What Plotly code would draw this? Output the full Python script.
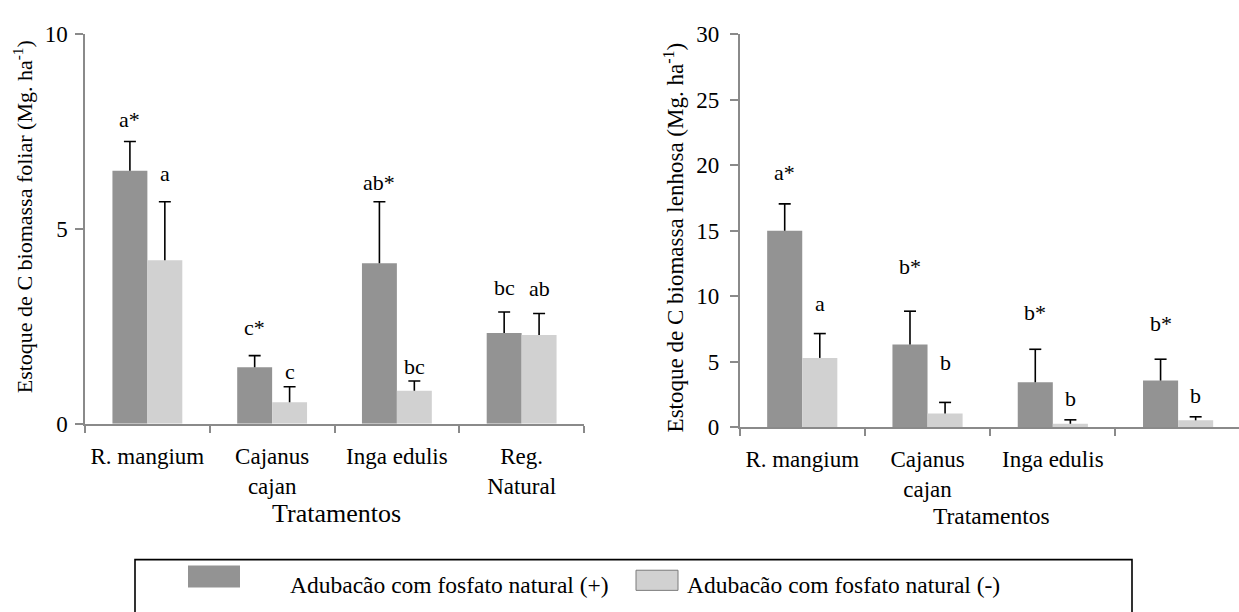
import plotly.graph_objects as go

# Treatments (x categories)
treatments = ["R. mangium", "Cajanus cajan", "Inga edulis", "Reg. Natural"]
tick_left = ["R. mangium", "Cajanus<br>cajan", "Inga edulis", "Reg.<br>Natural"]
tick_right = ["R. mangium", "Cajanus<br>cajan", "Inga edulis"]

# Leaf biomass carbon stock (Mg ha-1)
foliar_pos = [6.50, 1.45, 4.12, 2.33]
foliar_pos_err = [0.75, 0.30, 1.58, 0.54]
foliar_neg = [4.20, 0.55, 0.85, 2.28]
foliar_neg_err = [1.50, 0.40, 0.25, 0.55]
foliar_pos_letters = ["a*", "c*", "ab*", "bc"]
foliar_neg_letters = ["a", "c", "bc", "ab"]

# Woody biomass carbon stock (Mg ha-1)
lenhosa_pos = [15.00, 6.30, 3.42, 3.55]
lenhosa_pos_err = [2.05, 2.55, 2.52, 1.63]
lenhosa_neg = [5.28, 1.03, 0.25, 0.51]
lenhosa_neg_err = [1.86, 0.85, 0.30, 0.27]
lenhosa_pos_letters = ["a*", "b*", "b*", "b*"]
lenhosa_neg_letters = ["a", "b", "b", "b"]

legend_pos = "Adubacão com fosfato natural (+)"
legend_neg = "Adubacão com fosfato natural (-)"

DARK = "#939393"
LIGHT = "#d1d1d1"
AXIS = "#8a8a8a"
FONT = "Liberation Serif, Times New Roman, DejaVu Serif, serif"
W, H = 1239, 612
BARGAP = 0.44
HALF = (1 - BARGAP) / 4          # offset of each bar centre from its category
CAP = 0.048                      # half width of the error-bar cap

fig = go.Figure()
shapes = []


def add_bars(xa, ya, pos, pos_err, neg, neg_err):
    for k, (vals, errs, col) in enumerate(((pos, pos_err, DARK), (neg, neg_err, LIGHT))):
        fig.add_trace(go.Bar(
            x=treatments, y=vals, xaxis=xa, yaxis=ya,
            marker=dict(color=col, line=dict(width=0)),
            showlegend=False,
        ))
        off = -HALF if k == 0 else HALF
        # upper whisker with a cap, starting at the bar top
        for i, (v, e) in enumerate(zip(vals, errs)):
            xc = i + off
            shapes.append(dict(type="line", xref=xa, yref=ya, x0=xc, x1=xc,
                               y0=v, y1=v + e, line=dict(color="black", width=1.6)))
            shapes.append(dict(type="line", xref=xa, yref=ya, x0=xc - CAP, x1=xc + CAP,
                               y0=v + e, y1=v + e, line=dict(color="black", width=1.6)))


add_bars("x", "y", foliar_pos, foliar_pos_err, foliar_neg, foliar_neg_err)
add_bars("x2", "y2", lenhosa_pos, lenhosa_pos_err, lenhosa_neg, lenhosa_neg_err)

# pixel lift of each letter above its error-bar cap
lift_left_pos = [13, 20, 11, 16]
lift_left_neg = [20, 7, 6, 17]
lift_right_pos = [23, 36, 28, 27]
lift_right_neg = [22, 31, 13, 13]

annotations = []


def add_letters(xr, yr, vals, errs, letters, lifts, off):
    for i, (v, e, t, lift) in enumerate(zip(vals, errs, letters, lifts)):
        annotations.append(dict(
            x=i + off, y=v + e, xref=xr, yref=yr, text=t, showarrow=False,
            xanchor="center", yanchor="bottom",
            yshift=lift - 6, font=dict(family=FONT, size=22, color="black"),
        ))


add_letters("x", "y", foliar_pos, foliar_pos_err, foliar_pos_letters, lift_left_pos, -HALF)
add_letters("x", "y", foliar_neg, foliar_neg_err, foliar_neg_letters, lift_left_neg, HALF)
add_letters("x2", "y2", lenhosa_pos, lenhosa_pos_err, lenhosa_pos_letters, lift_right_pos, -HALF)
add_letters("x2", "y2", lenhosa_neg, lenhosa_neg_err, lenhosa_neg_letters, lift_right_neg, HALF)


def px(xp):
    return xp / W


def py(yp):
    return 1 - yp / H


# axis titles
annotations += [
    dict(x=px(336), y=py(523), xref="paper", yref="paper", text="Tratamentos",
         showarrow=False, xanchor="center", yanchor="middle",
         font=dict(family=FONT, size=26, color="black")),
    dict(x=px(991), y=py(525), xref="paper", yref="paper", text="Tratamentos",
         showarrow=False, xanchor="center", yanchor="middle",
         font=dict(family=FONT, size=23.5, color="black")),
    dict(x=px(23), y=py(214), xref="paper", yref="paper",
         text="Estoque de C biomassa foliar (Mg. ha<sup>-1</sup>)",
         showarrow=False, textangle=-90, xanchor="center", yanchor="middle",
         font=dict(family=FONT, size=22, color="black")),
    dict(x=px(674), y=py(235), xref="paper", yref="paper",
         text="Estoque de C biomassa lenhosa (Mg. ha<sup>-1</sup>)",
         showarrow=False, textangle=-90, xanchor="center", yanchor="middle",
         font=dict(family=FONT, size=23, color="black")),
]

# legend
annotations += [
    dict(x=px(288), y=py(597), xref="paper", yref="paper", text=legend_pos,
         showarrow=False, xanchor="left", yanchor="middle",
         font=dict(family=FONT, size=23.5, color="black")),
    dict(x=px(685), y=py(597), xref="paper", yref="paper", text=legend_neg,
         showarrow=False, xanchor="left", yanchor="middle",
         font=dict(family=FONT, size=23.5, color="black")),
]

shapes += [
    dict(type="rect", xref="paper", yref="paper",
         x0=px(135), x1=px(1132), y0=py(571), y1=py(630),
         line=dict(color="black", width=1.6), fillcolor="rgba(0,0,0,0)"),
    dict(type="rect", xref="paper", yref="paper",
         x0=px(188), x1=px(240), y0=py(577), y1=py(600),
         line=dict(width=0), fillcolor=DARK),
    dict(type="rect", xref="paper", yref="paper",
         x0=px(636), x1=px(678), y0=py(582), y1=py(603),
         line=dict(color="#7a7a7a", width=1), fillcolor=LIGHT),
]

xaxis_common = dict(
    type="category", showline=True, linecolor=AXIS, linewidth=1.5,
    ticks="outside", tickson="boundaries", ticklen=7, tickcolor=AXIS,
    tickwidth=1.5, showgrid=False, zeroline=False,
    tickfont=dict(family=FONT, size=23, color="black"),
    ticklabelstandoff=11, fixedrange=True,
)
yaxis_common = dict(
    showline=True, linecolor=AXIS, linewidth=1.5, ticks="outside",
    ticklen=8, tickcolor=AXIS, tickwidth=1.5, showgrid=False,
    zeroline=False, dtick=5, tick0=0,
    tickfont=dict(family=FONT, size=23, color="black"),
)

fig.update_layout(
    width=W, height=H,
    margin=dict(l=0, r=0, t=0, b=0),
    paper_bgcolor="white", plot_bgcolor="white",
    barmode="group", bargap=BARGAP, bargroupgap=0,
    xaxis=dict(xaxis_common, domain=[px(85), px(584)], range=[-0.5, 3.5],
               tickvals=treatments, ticktext=tick_left, anchor="y"),
    yaxis=dict(yaxis_common, domain=[py(429.3), py(23.3)], range=[0, 10],
               anchor="x", ticklabelstandoff=3),
    xaxis2=dict(xaxis_common, domain=[px(739.6), 1.0], range=[-0.5, 3.486],
                tickvals=treatments[:3], ticktext=tick_right, anchor="y2"),
    yaxis2=dict(yaxis_common, domain=[py(432.7), py(23.3)], range=[0, 30],
                anchor="x2", ticklabelstandoff=6),
    annotations=annotations,
    shapes=shapes,
    font=dict(family=FONT, color="black"),
)

fig.write_html("out.html")
